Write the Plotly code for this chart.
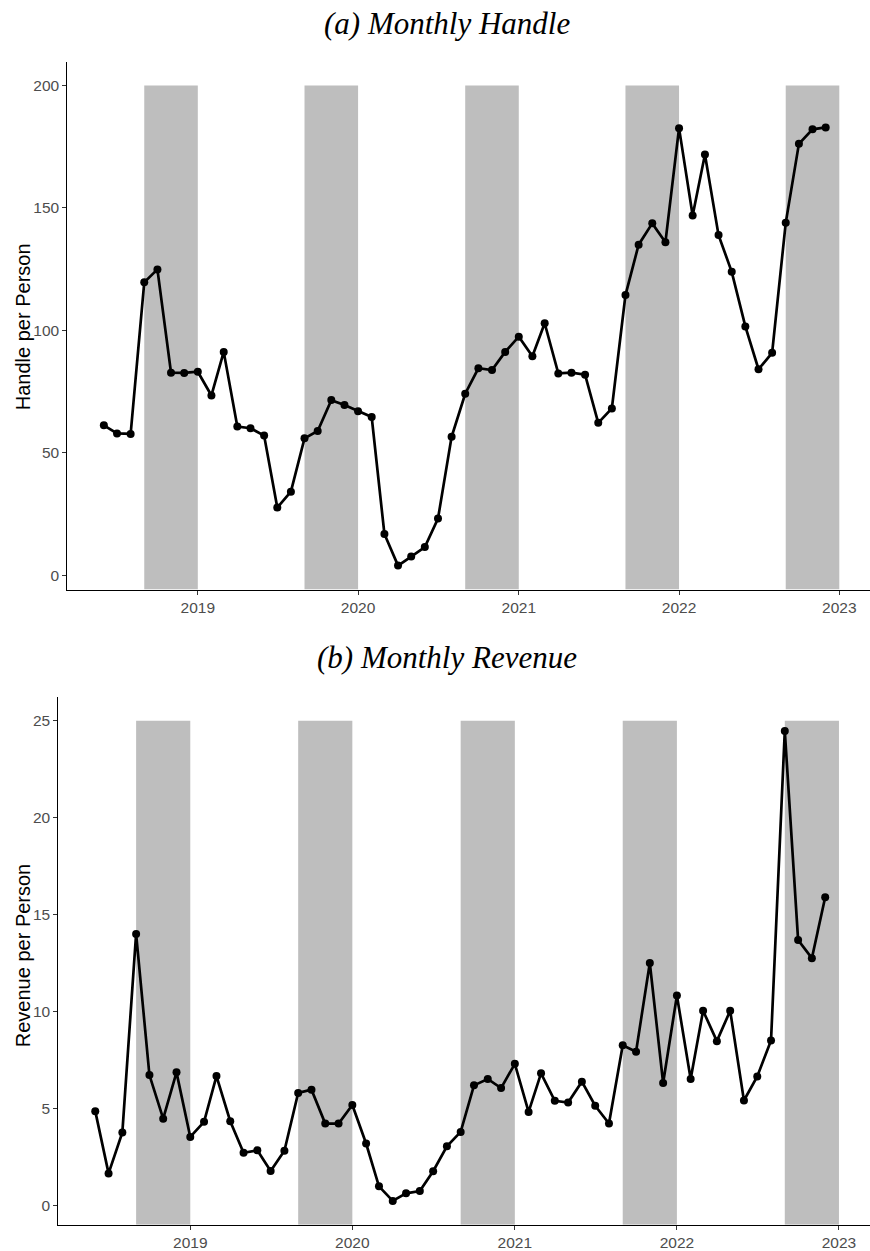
import pandas as pd
import plotly.graph_objects as go

# Monthly observations, June 2018 through December 2022
months = pd.date_range("2018-06-01", "2022-12-01", freq="MS")

handle_per_person = [
    61.2, 57.9, 57.7, 119.6, 124.9, 82.7, 82.6, 83.1, 73.4, 91.2,
    60.7, 60.0, 57.0, 27.6, 34.1, 55.9, 58.9, 71.5, 69.5, 66.9,
    64.6, 16.8, 3.9, 7.6, 11.5, 23.1, 56.5, 74.1, 84.5, 83.8,
    91.2, 97.4, 89.4, 102.9, 82.4, 82.7, 81.9, 62.2, 68.1, 114.4,
    135.0, 143.7, 136.0, 182.6, 146.9, 171.8, 138.9, 123.9, 101.6, 84.1,
    90.8, 143.9, 176.2, 182.1, 182.9,
]

revenue_per_person = [
    4.86, 1.65, 3.76, 14.0, 6.72, 4.47, 6.86, 3.53, 4.31, 6.67,
    4.34, 2.71, 2.84, 1.77, 2.82, 5.80, 5.97, 4.22, 4.22, 5.18,
    3.19, 0.98, 0.23, 0.62, 0.74, 1.76, 3.05, 3.79, 6.19, 6.52,
    6.05, 7.30, 4.82, 6.81, 5.39, 5.30, 6.38, 5.14, 4.22, 8.26,
    7.93, 12.50, 6.31, 10.82, 6.52, 10.04, 8.47, 10.04, 5.41, 6.65,
    8.51, 24.47, 13.69, 12.75, 15.89,
]

# Football season windows (September through December)
season_start = ["2018-09-01", "2019-09-01", "2020-09-01", "2021-09-01", "2022-09-01"]
season_end = ["2019-01-01", "2020-01-01", "2021-01-01", "2022-01-01", "2023-01-01"]
handle_band_top = 200
revenue_band_top = 25

year_ticks = ["2019-01-01", "2020-01-01", "2021-01-01", "2022-01-01", "2023-01-01"]
year_labels = ["2019", "2020", "2021", "2022", "2023"]
handle_ticks = [0, 50, 100, 150, 200]
revenue_ticks = [0, 5, 10, 15, 20, 25]

W, H = 870, 1251


def px_x(p):
    return p / W


def px_y(p):
    return 1 - p / H


x_range = ["2018-03-09 18:00", "2023-03-11 22:00"]
handle_range = [-5.9, 209.8]
revenue_range = [-1.0, 26.24]

line_style = dict(color="black", width=2.7)
marker_style = dict(color="black", size=8)

fig = go.Figure()
fig.add_trace(go.Scatter(
    x=months, y=handle_per_person, mode="lines+markers",
    line=line_style, marker=marker_style, xaxis="x", yaxis="y",
    showlegend=False, hoverinfo="x+y",
))
fig.add_trace(go.Scatter(
    x=months, y=revenue_per_person, mode="lines+markers",
    line=line_style, marker=marker_style, xaxis="x2", yaxis="y2",
    showlegend=False, hoverinfo="x+y",
))

shapes = []
for s, e in zip(season_start, season_end):
    shapes.append(dict(type="rect", xref="x", yref="y", x0=s, x1=e,
                       y0=handle_range[0], y1=handle_band_top,
                       fillcolor="#BEBEBE", line=dict(width=0), layer="below"))
    shapes.append(dict(type="rect", xref="x2", yref="y2", x0=s, x1=e,
                       y0=revenue_range[0], y1=revenue_band_top,
                       fillcolor="#BEBEBE", line=dict(width=0), layer="below"))

tick_font = dict(family="Liberation Sans, Arial, sans-serif", size=15.5, color="#4D4D4D")
axis_common = dict(
    showline=True, linecolor="black", linewidth=1.1, mirror=False,
    ticks="outside", ticklen=4, tickwidth=1.1, tickcolor="#333333",
    tickfont=tick_font, showgrid=False, zeroline=False, fixedrange=True,
)

fig.update_layout(
    width=W, height=H,
    margin=dict(l=0, r=0, t=0, b=0),
    paper_bgcolor="white", plot_bgcolor="white",
    shapes=shapes,
    xaxis=dict(domain=[px_x(67.3), 1], anchor="y", type="date", range=x_range,
               tickvals=year_ticks, ticktext=year_labels, **axis_common),
    yaxis=dict(domain=[px_y(591), px_y(61.7)], anchor="x", range=handle_range,
               tickvals=handle_ticks, **axis_common),
    xaxis2=dict(domain=[px_x(58.3), 1], anchor="y2", type="date", range=x_range,
                tickvals=year_ticks, ticktext=year_labels, **axis_common),
    yaxis2=dict(domain=[px_y(1227.7), px_y(698.3)], anchor="x2", range=revenue_range,
                tickvals=revenue_ticks, **axis_common),
)

title_font = dict(family="Liberation Serif, Times New Roman, serif", size=31,
                  color="black", style="italic")
axis_title_font = dict(family="Liberation Sans, Arial, sans-serif", size=20, color="black")

annotations = [
    dict(text="(a) Monthly Handle", x=px_x(447), y=px_y(24), font=title_font),
    dict(text="(b) Monthly Revenue", x=px_x(447), y=px_y(659), font=title_font),
    dict(text="Handle per Person", x=px_x(22.5), y=px_y(327.5), font=axis_title_font,
         textangle=-90),
    dict(text="Revenue per Person", x=px_x(22.5), y=px_y(958), font=axis_title_font,
         textangle=-90),
]
for a in annotations:
    a.update(xref="paper", yref="paper", showarrow=False,
             xanchor="center", yanchor="middle")
fig.update_layout(annotations=annotations)

fig.write_html("out.html")
